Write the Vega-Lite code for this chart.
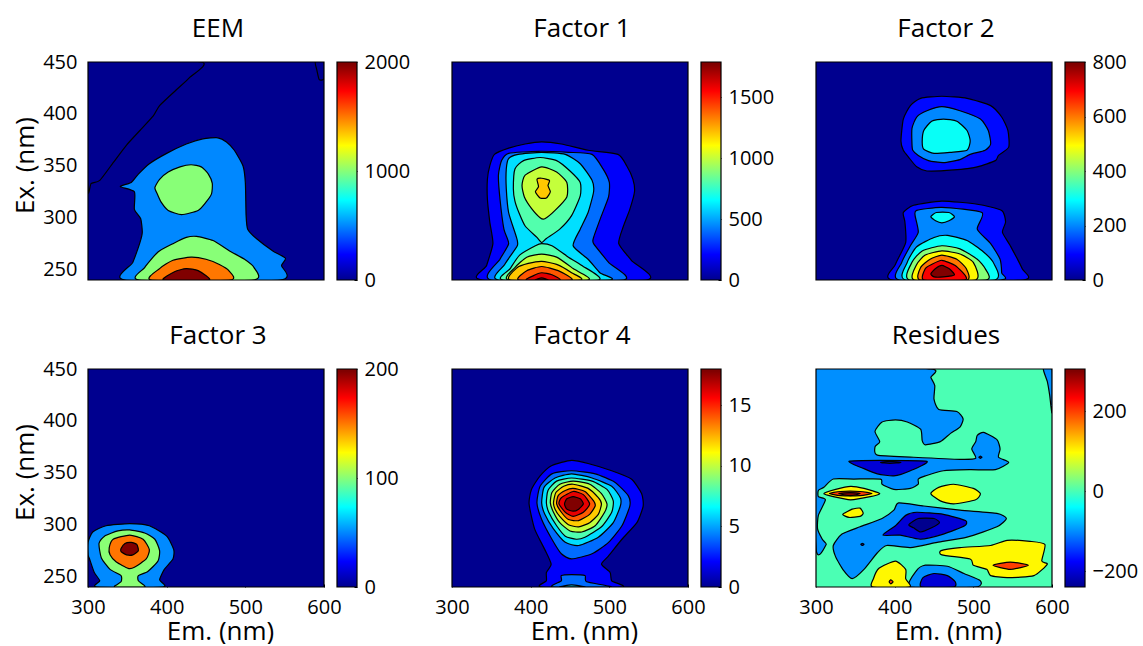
{"$schema":"https://vega.github.io/schema/vega-lite/v6.json","padding":{"left":12,"top":16,"right":0,"bottom":0},"resolve":{"scale":{"fill":"independent"}},"config":{"font":"Open Sans","view":{"stroke":null},"title":{"fontSize":26,"fontWeight":"normal","color":"#000","anchor":"middle","dx":12,"offset":19},"axis":{"labelFontSize":20,"titleFontSize":26,"titleFontWeight":"normal","labelColor":"#000","titleColor":"#000","grid":false,"domain":false,"tickColor":"#000","tickSize":-3,"labelOverlap":false,"labelBound":false,"labelFlush":false,"zindex":1}},
"datasets":{
"a":[{"c":1,"v":0,"x":444,"y":450},{"c":1,"v":0,"x":429,"y":435},{"c":1,"v":0,"x":412,"y":423},{"c":1,"v":0,"x":391,"y":408},{"c":1,"v":0,"x":383,"y":398},{"c":1,"v":0,"x":366,"y":384},{"c":1,"v":0,"x":349,"y":370},{"c":1,"v":0,"x":332,"y":353},{"c":1,"v":0,"x":315,"y":336},{"c":1,"v":0,"x":304,"y":333},{"c":1,"v":0,"x":300,"y":328},{"c":1,"v":0,"x":300,"y":450},
{"c":2,"v":0,"x":589,"y":450},{"c":2,"v":0,"x":591,"y":442},{"c":2,"v":0,"x":594,"y":433},{"c":2,"v":0,"x":600,"y":434},{"c":2,"v":0,"x":600,"y":450},
{"c":3,"v":500,"x":347,"y":240},{"c":3,"v":500,"x":357,"y":257},{"c":3,"v":500,"x":366,"y":276},{"c":3,"v":500,"x":369,"y":286},{"c":3,"v":500,"x":367,"y":299},{"c":3,"v":500,"x":359,"y":308},{"c":3,"v":500,"x":359,"y":325},{"c":3,"v":500,"x":341,"y":330},{"c":3,"v":500,"x":355,"y":334},{"c":3,"v":500,"x":364,"y":342},{"c":3,"v":500,"x":378,"y":352},{"c":3,"v":500,"x":400,"y":362},{"c":3,"v":500,"x":425,"y":371},{"c":3,"v":500,"x":446,"y":376},{"c":3,"v":500,"x":465,"y":377},{"c":3,"v":500,"x":476,"y":373},{"c":3,"v":500,"x":486,"y":365},{"c":3,"v":500,"x":497,"y":350},{"c":3,"v":500,"x":500,"y":334},{"c":3,"v":500,"x":501,"y":302},{"c":3,"v":500,"x":503,"y":289},{"c":3,"v":500,"x":514,"y":280},{"c":3,"v":500,"x":535,"y":268},{"c":3,"v":500,"x":551,"y":261},{"c":3,"v":500,"x":546,"y":254},{"c":3,"v":500,"x":544,"y":240},
{"c":4,"v":1000,"x":385,"y":329},{"c":4,"v":1000,"x":391,"y":337},{"c":4,"v":1000,"x":402,"y":344},{"c":4,"v":1000,"x":417,"y":349},{"c":4,"v":1000,"x":431,"y":351},{"c":4,"v":1000,"x":444,"y":349},{"c":4,"v":1000,"x":453,"y":342},{"c":4,"v":1000,"x":458,"y":333},{"c":4,"v":1000,"x":457,"y":323},{"c":4,"v":1000,"x":450,"y":315},{"c":4,"v":1000,"x":440,"y":307},{"c":4,"v":1000,"x":419,"y":303},{"c":4,"v":1000,"x":402,"y":307},{"c":4,"v":1000,"x":393,"y":315},{"c":4,"v":1000,"x":388,"y":323},
{"c":5,"v":1000,"x":365,"y":240},{"c":5,"v":1000,"x":372,"y":252},{"c":5,"v":1000,"x":389,"y":267},{"c":5,"v":1000,"x":408,"y":275},{"c":5,"v":1000,"x":425,"y":281},{"c":5,"v":1000,"x":438,"y":282},{"c":5,"v":1000,"x":459,"y":278},{"c":5,"v":1000,"x":480,"y":268},{"c":5,"v":1000,"x":499,"y":260},{"c":5,"v":1000,"x":511,"y":252},{"c":5,"v":1000,"x":510,"y":240},
{"c":6,"v":1500,"x":380,"y":240},{"c":6,"v":1500,"x":391,"y":251},{"c":6,"v":1500,"x":408,"y":259},{"c":6,"v":1500,"x":431,"y":262},{"c":6,"v":1500,"x":450,"y":260},{"c":6,"v":1500,"x":467,"y":255},{"c":6,"v":1500,"x":479,"y":249},{"c":6,"v":1500,"x":481,"y":240},
{"c":7,"v":2000,"x":396,"y":240},{"c":7,"v":2000,"x":410,"y":248},{"c":7,"v":2000,"x":425,"y":251},{"c":7,"v":2000,"x":440,"y":249},{"c":7,"v":2000,"x":454,"y":240}],
"b":[{"c":1,"v":200,"x":339,"y":240},{"c":1,"v":200,"x":344,"y":254},{"c":1,"v":200,"x":352,"y":275},{"c":1,"v":200,"x":348,"y":296},{"c":1,"v":200,"x":345,"y":318},{"c":1,"v":200,"x":345,"y":337},{"c":1,"v":200,"x":348,"y":350},{"c":1,"v":200,"x":354,"y":361},{"c":1,"v":200,"x":372,"y":367},{"c":1,"v":200,"x":393,"y":371},{"c":1,"v":200,"x":414,"y":373},{"c":1,"v":200,"x":439,"y":371},{"c":1,"v":200,"x":473,"y":365},{"c":1,"v":200,"x":511,"y":361},{"c":1,"v":200,"x":522,"y":350},{"c":1,"v":200,"x":530,"y":337},{"c":1,"v":200,"x":532,"y":325},{"c":1,"v":200,"x":526,"y":308},{"c":1,"v":200,"x":518,"y":292},{"c":1,"v":200,"x":512,"y":275},{"c":1,"v":200,"x":528,"y":259},{"c":1,"v":200,"x":547,"y":240},
{"c":2,"v":400,"x":350,"y":240},{"c":2,"v":400,"x":361,"y":260},{"c":2,"v":400,"x":372,"y":275},{"c":2,"v":400,"x":366,"y":289},{"c":2,"v":400,"x":361,"y":318},{"c":2,"v":400,"x":359,"y":341},{"c":2,"v":400,"x":363,"y":355},{"c":2,"v":400,"x":372,"y":362},{"c":2,"v":400,"x":410,"y":364},{"c":2,"v":400,"x":448,"y":363},{"c":2,"v":400,"x":478,"y":361},{"c":2,"v":400,"x":492,"y":347},{"c":2,"v":400,"x":500,"y":334},{"c":2,"v":400,"x":499,"y":320},{"c":2,"v":400,"x":490,"y":302},{"c":2,"v":400,"x":480,"y":281},{"c":2,"v":400,"x":480,"y":275},{"c":2,"v":400,"x":499,"y":257},{"c":2,"v":400,"x":518,"y":240},
{"c":3,"v":600,"x":359,"y":240},{"c":3,"v":600,"x":367,"y":255},{"c":3,"v":600,"x":383,"y":273},{"c":3,"v":600,"x":382,"y":281},{"c":3,"v":600,"x":372,"y":305},{"c":3,"v":600,"x":369,"y":328},{"c":3,"v":600,"x":369,"y":347},{"c":3,"v":600,"x":372,"y":357},{"c":3,"v":600,"x":384,"y":361},{"c":3,"v":600,"x":414,"y":363},{"c":3,"v":600,"x":444,"y":361},{"c":3,"v":600,"x":463,"y":352},{"c":3,"v":600,"x":478,"y":336},{"c":3,"v":600,"x":480,"y":325},{"c":3,"v":600,"x":473,"y":305},{"c":3,"v":600,"x":463,"y":289},{"c":3,"v":600,"x":454,"y":273},{"c":3,"v":600,"x":473,"y":260},{"c":3,"v":600,"x":488,"y":247},{"c":3,"v":600,"x":500,"y":240},
{"c":4,"v":800,"x":378,"y":328},{"c":4,"v":800,"x":380,"y":347},{"c":4,"v":800,"x":391,"y":355},{"c":4,"v":800,"x":412,"y":358},{"c":4,"v":800,"x":433,"y":355},{"c":4,"v":800,"x":450,"y":345},{"c":4,"v":800,"x":463,"y":334},{"c":4,"v":800,"x":463,"y":321},{"c":4,"v":800,"x":452,"y":302},{"c":4,"v":800,"x":437,"y":289},{"c":4,"v":800,"x":420,"y":280},{"c":4,"v":800,"x":414,"y":276},{"c":4,"v":800,"x":408,"y":281},{"c":4,"v":800,"x":393,"y":292},{"c":4,"v":800,"x":385,"y":305},{"c":4,"v":800,"x":380,"y":316},
{"c":5,"v":800,"x":365,"y":240},{"c":5,"v":800,"x":374,"y":251},{"c":5,"v":800,"x":386,"y":264},{"c":5,"v":800,"x":406,"y":273},{"c":5,"v":800,"x":414,"y":275},{"c":5,"v":800,"x":427,"y":273},{"c":5,"v":800,"x":448,"y":262},{"c":5,"v":800,"x":465,"y":254},{"c":5,"v":800,"x":486,"y":240},
{"c":6,"v":1000,"x":389,"y":331},{"c":6,"v":1000,"x":393,"y":341},{"c":6,"v":1000,"x":414,"y":349},{"c":6,"v":1000,"x":433,"y":344},{"c":6,"v":1000,"x":446,"y":334},{"c":6,"v":1000,"x":446,"y":320},{"c":6,"v":1000,"x":431,"y":307},{"c":6,"v":1000,"x":418,"y":299},{"c":6,"v":1000,"x":412,"y":300},{"c":6,"v":1000,"x":401,"y":309},{"c":6,"v":1000,"x":392,"y":320},
{"c":7,"v":1200,"x":408,"y":337},{"c":7,"v":1200,"x":414,"y":338},{"c":7,"v":1200,"x":424,"y":336},{"c":7,"v":1200,"x":422,"y":331},{"c":7,"v":1200,"x":425,"y":325},{"c":7,"v":1200,"x":420,"y":319},{"c":7,"v":1200,"x":412,"y":319},{"c":7,"v":1200,"x":406,"y":325},{"c":7,"v":1200,"x":410,"y":330},
{"c":8,"v":1000,"x":372,"y":240},{"c":8,"v":1000,"x":380,"y":252},{"c":8,"v":1000,"x":395,"y":262},{"c":8,"v":1000,"x":414,"y":265},{"c":8,"v":1000,"x":433,"y":262},{"c":8,"v":1000,"x":454,"y":251},{"c":8,"v":1000,"x":473,"y":240},
{"c":9,"v":1200,"x":374,"y":240},{"c":9,"v":1200,"x":383,"y":252},{"c":9,"v":1200,"x":397,"y":256},{"c":9,"v":1200,"x":414,"y":258},{"c":9,"v":1200,"x":433,"y":255},{"c":9,"v":1200,"x":452,"y":247},{"c":9,"v":1200,"x":463,"y":240},
{"c":10,"v":1400,"x":385,"y":240},{"c":10,"v":1400,"x":395,"y":249},{"c":10,"v":1400,"x":414,"y":253},{"c":10,"v":1400,"x":435,"y":249},{"c":10,"v":1400,"x":452,"y":240},
{"c":11,"v":1600,"x":395,"y":240},{"c":11,"v":1600,"x":403,"y":244},{"c":11,"v":1600,"x":414,"y":247},{"c":11,"v":1600,"x":427,"y":245},{"c":11,"v":1600,"x":437,"y":240},
{"c":12,"v":1800,"x":406,"y":240},{"c":12,"v":1800,"x":414,"y":242},{"c":12,"v":1800,"x":422,"y":240}],
"c":[{"c":1,"v":100,"x":408,"y":374},{"c":1,"v":100,"x":411,"y":395},{"c":1,"v":100,"x":420,"y":408},{"c":1,"v":100,"x":433,"y":415},{"c":1,"v":100,"x":460,"y":417},{"c":1,"v":100,"x":492,"y":415},{"c":1,"v":100,"x":522,"y":408},{"c":1,"v":100,"x":536,"y":397},{"c":1,"v":100,"x":544,"y":384},{"c":1,"v":100,"x":545,"y":368},{"c":1,"v":100,"x":532,"y":360},{"c":1,"v":100,"x":528,"y":355},{"c":1,"v":100,"x":505,"y":349},{"c":1,"v":100,"x":475,"y":346},{"c":1,"v":100,"x":441,"y":345},{"c":1,"v":100,"x":428,"y":349},{"c":1,"v":100,"x":418,"y":358},{"c":1,"v":100,"x":411,"y":365},
{"c":2,"v":200,"x":422,"y":371},{"c":2,"v":200,"x":422,"y":386},{"c":2,"v":200,"x":428,"y":397},{"c":2,"v":200,"x":441,"y":403},{"c":2,"v":200,"x":460,"y":407},{"c":2,"v":200,"x":483,"y":403},{"c":2,"v":200,"x":509,"y":395},{"c":2,"v":200,"x":519,"y":384},{"c":2,"v":200,"x":522,"y":371},{"c":2,"v":200,"x":515,"y":365},{"c":2,"v":200,"x":496,"y":361},{"c":2,"v":200,"x":483,"y":356},{"c":2,"v":200,"x":462,"y":353},{"c":2,"v":200,"x":443,"y":355},{"c":2,"v":200,"x":430,"y":360},{"c":2,"v":200,"x":423,"y":365},
{"c":3,"v":300,"x":435,"y":373},{"c":3,"v":300,"x":437,"y":384},{"c":3,"v":300,"x":447,"y":393},{"c":3,"v":300,"x":462,"y":395},{"c":3,"v":300,"x":479,"y":393},{"c":3,"v":300,"x":492,"y":384},{"c":3,"v":300,"x":496,"y":374},{"c":3,"v":300,"x":492,"y":365},{"c":3,"v":300,"x":471,"y":363},{"c":3,"v":300,"x":450,"y":362},{"c":3,"v":300,"x":437,"y":366},
{"c":4,"v":100,"x":398,"y":240},{"c":4,"v":100,"x":401,"y":255},{"c":4,"v":100,"x":414,"y":276},{"c":4,"v":100,"x":413,"y":296},{"c":4,"v":100,"x":411,"y":305},{"c":4,"v":100,"x":424,"y":312},{"c":4,"v":100,"x":460,"y":316},{"c":4,"v":100,"x":505,"y":313},{"c":4,"v":100,"x":536,"y":307},{"c":4,"v":100,"x":541,"y":296},{"c":4,"v":100,"x":537,"y":286},{"c":4,"v":100,"x":547,"y":273},{"c":4,"v":100,"x":562,"y":251},{"c":4,"v":100,"x":563,"y":240},
{"c":5,"v":200,"x":406,"y":240},{"c":5,"v":200,"x":409,"y":257},{"c":5,"v":200,"x":420,"y":273},{"c":5,"v":200,"x":430,"y":286},{"c":5,"v":200,"x":426,"y":302},{"c":5,"v":200,"x":428,"y":307},{"c":5,"v":200,"x":460,"y":310},{"c":5,"v":200,"x":511,"y":305},{"c":5,"v":200,"x":505,"y":289},{"c":5,"v":200,"x":522,"y":275},{"c":5,"v":200,"x":534,"y":260},{"c":5,"v":200,"x":536,"y":247},{"c":5,"v":200,"x":535,"y":240},
{"c":6,"v":300,"x":446,"y":301},{"c":6,"v":300,"x":453,"y":305},{"c":6,"v":300,"x":469,"y":305},{"c":6,"v":300,"x":476,"y":301},{"c":6,"v":300,"x":469,"y":297},{"c":6,"v":300,"x":460,"y":295},{"c":6,"v":300,"x":452,"y":297},
{"c":7,"v":300,"x":414,"y":240},{"c":7,"v":300,"x":416,"y":257},{"c":7,"v":300,"x":428,"y":272},{"c":7,"v":300,"x":450,"y":281},{"c":7,"v":300,"x":467,"y":283},{"c":7,"v":300,"x":492,"y":278},{"c":7,"v":300,"x":513,"y":267},{"c":7,"v":300,"x":526,"y":256},{"c":7,"v":300,"x":527,"y":240},
{"c":8,"v":400,"x":419,"y":240},{"c":8,"v":400,"x":422,"y":257},{"c":8,"v":400,"x":435,"y":268},{"c":8,"v":400,"x":460,"y":273},{"c":8,"v":400,"x":483,"y":270},{"c":8,"v":400,"x":505,"y":260},{"c":8,"v":400,"x":515,"y":251},{"c":8,"v":400,"x":516,"y":240},
{"c":9,"v":500,"x":425,"y":240},{"c":9,"v":500,"x":428,"y":255},{"c":9,"v":500,"x":439,"y":264},{"c":9,"v":500,"x":460,"y":268},{"c":9,"v":500,"x":483,"y":265},{"c":9,"v":500,"x":500,"y":257},{"c":9,"v":500,"x":503,"y":240},
{"c":10,"v":600,"x":432,"y":240},{"c":10,"v":600,"x":433,"y":252},{"c":10,"v":600,"x":445,"y":260},{"c":10,"v":600,"x":460,"y":264},{"c":10,"v":600,"x":479,"y":260},{"c":10,"v":600,"x":491,"y":251},{"c":10,"v":600,"x":492,"y":240},
{"c":11,"v":700,"x":437,"y":240},{"c":11,"v":700,"x":439,"y":251},{"c":11,"v":700,"x":447,"y":255},{"c":11,"v":700,"x":460,"y":259},{"c":11,"v":700,"x":477,"y":254},{"c":11,"v":700,"x":490,"y":244},{"c":11,"v":700,"x":488,"y":240},
{"c":12,"v":800,"x":446,"y":246},{"c":12,"v":800,"x":452,"y":251},{"c":12,"v":800,"x":460,"y":254},{"c":12,"v":800,"x":469,"y":251},{"c":12,"v":800,"x":476,"y":245},{"c":12,"v":800,"x":462,"y":243},{"c":12,"v":800,"x":450,"y":243}],
"d":[{"c":1,"v":50,"x":300,"y":283},{"c":1,"v":50,"x":306,"y":293},{"c":1,"v":50,"x":323,"y":299},{"c":1,"v":50,"x":353,"y":301},{"c":1,"v":50,"x":378,"y":299},{"c":1,"v":50,"x":400,"y":289},{"c":1,"v":50,"x":409,"y":276},{"c":1,"v":50,"x":408,"y":267},{"c":1,"v":50,"x":397,"y":257},{"c":1,"v":50,"x":391,"y":247},{"c":1,"v":50,"x":395,"y":240},{"c":1,"v":50,"x":311,"y":240},{"c":1,"v":50,"x":315,"y":246},{"c":1,"v":50,"x":308,"y":254},{"c":1,"v":50,"x":302,"y":267},{"c":1,"v":50,"x":300,"y":271},
{"c":2,"v":100,"x":314,"y":282},{"c":2,"v":100,"x":321,"y":289},{"c":2,"v":100,"x":338,"y":294},{"c":2,"v":100,"x":353,"y":295},{"c":2,"v":100,"x":372,"y":292},{"c":2,"v":100,"x":385,"y":286},{"c":2,"v":100,"x":391,"y":275},{"c":2,"v":100,"x":389,"y":265},{"c":2,"v":100,"x":376,"y":255},{"c":2,"v":100,"x":364,"y":251},{"c":2,"v":100,"x":364,"y":246},{"c":2,"v":100,"x":372,"y":240},{"c":2,"v":100,"x":334,"y":240},{"c":2,"v":100,"x":342,"y":245},{"c":2,"v":100,"x":342,"y":251},{"c":2,"v":100,"x":328,"y":257},{"c":2,"v":100,"x":317,"y":268},
{"c":3,"v":150,"x":327,"y":278},{"c":3,"v":150,"x":332,"y":286},{"c":3,"v":150,"x":353,"y":290},{"c":3,"v":150,"x":370,"y":286},{"c":3,"v":150,"x":378,"y":276},{"c":3,"v":150,"x":374,"y":267},{"c":3,"v":150,"x":359,"y":259},{"c":3,"v":150,"x":351,"y":258},{"c":3,"v":150,"x":336,"y":264},{"c":3,"v":150,"x":328,"y":271},
{"c":4,"v":200,"x":342,"y":277},{"c":4,"v":200,"x":347,"y":282},{"c":4,"v":200,"x":355,"y":283},{"c":4,"v":200,"x":362,"y":281},{"c":4,"v":200,"x":364,"y":275},{"c":4,"v":200,"x":357,"y":271},{"c":4,"v":200,"x":349,"y":271},{"c":4,"v":200,"x":342,"y":274}],
"e":[{"c":1,"v":2,"x":398,"y":320},{"c":1,"v":2,"x":401,"y":334},{"c":1,"v":2,"x":412,"y":347},{"c":1,"v":2,"x":427,"y":357},{"c":1,"v":2,"x":452,"y":362},{"c":1,"v":2,"x":473,"y":359},{"c":1,"v":2,"x":503,"y":352},{"c":1,"v":2,"x":528,"y":344},{"c":1,"v":2,"x":541,"y":330},{"c":1,"v":2,"x":543,"y":318},{"c":1,"v":2,"x":535,"y":302},{"c":1,"v":2,"x":516,"y":286},{"c":1,"v":2,"x":499,"y":270},{"c":1,"v":2,"x":490,"y":262},{"c":1,"v":2,"x":501,"y":254},{"c":1,"v":2,"x":503,"y":246},{"c":1,"v":2,"x":516,"y":240},{"c":1,"v":2,"x":414,"y":240},{"c":1,"v":2,"x":420,"y":246},{"c":1,"v":2,"x":420,"y":254},{"c":1,"v":2,"x":426,"y":262},{"c":1,"v":2,"x":418,"y":276},{"c":1,"v":2,"x":405,"y":296},
{"c":2,"v":4,"x":408,"y":321},{"c":2,"v":4,"x":412,"y":337},{"c":2,"v":4,"x":427,"y":349},{"c":2,"v":4,"x":452,"y":352},{"c":2,"v":4,"x":482,"y":349},{"c":2,"v":4,"x":507,"y":341},{"c":2,"v":4,"x":524,"y":328},{"c":2,"v":4,"x":526,"y":318},{"c":2,"v":4,"x":516,"y":299},{"c":2,"v":4,"x":499,"y":283},{"c":2,"v":4,"x":478,"y":272},{"c":2,"v":4,"x":452,"y":267},{"c":2,"v":4,"x":439,"y":272},{"c":2,"v":4,"x":427,"y":286},{"c":2,"v":4,"x":414,"y":305},
{"c":3,"v":4,"x":428,"y":240},{"c":3,"v":4,"x":439,"y":246},{"c":3,"v":4,"x":439,"y":251},{"c":3,"v":4,"x":452,"y":252},{"c":3,"v":4,"x":469,"y":251},{"c":3,"v":4,"x":471,"y":245},{"c":3,"v":4,"x":502,"y":240},
{"c":4,"v":6,"x":437,"y":240},{"c":4,"v":6,"x":452,"y":242},{"c":4,"v":6,"x":469,"y":240},
{"c":5,"v":6,"x":414,"y":321},{"c":5,"v":6,"x":417,"y":336},{"c":5,"v":6,"x":431,"y":345},{"c":5,"v":6,"x":452,"y":349},{"c":5,"v":6,"x":478,"y":345},{"c":5,"v":6,"x":503,"y":337},{"c":5,"v":6,"x":514,"y":326},{"c":5,"v":6,"x":514,"y":318},{"c":5,"v":6,"x":505,"y":302},{"c":5,"v":6,"x":486,"y":288},{"c":5,"v":6,"x":461,"y":280},{"c":5,"v":6,"x":444,"y":283},{"c":5,"v":6,"x":429,"y":296},{"c":5,"v":6,"x":418,"y":310},
{"c":6,"v":8,"x":420,"y":321},{"c":6,"v":8,"x":422,"y":333},{"c":6,"v":8,"x":433,"y":342},{"c":6,"v":8,"x":452,"y":345},{"c":6,"v":8,"x":478,"y":342},{"c":6,"v":8,"x":497,"y":334},{"c":6,"v":8,"x":505,"y":323},{"c":6,"v":8,"x":503,"y":312},{"c":6,"v":8,"x":490,"y":298},{"c":6,"v":8,"x":469,"y":288},{"c":6,"v":8,"x":458,"y":286},{"c":6,"v":8,"x":444,"y":289},{"c":6,"v":8,"x":433,"y":299},{"c":6,"v":8,"x":423,"y":312},
{"c":7,"v":10,"x":425,"y":321},{"c":7,"v":10,"x":427,"y":331},{"c":7,"v":10,"x":437,"y":339},{"c":7,"v":10,"x":454,"y":342},{"c":7,"v":10,"x":475,"y":339},{"c":7,"v":10,"x":490,"y":330},{"c":7,"v":10,"x":497,"y":320},{"c":7,"v":10,"x":494,"y":312},{"c":7,"v":10,"x":482,"y":299},{"c":7,"v":10,"x":465,"y":293},{"c":7,"v":10,"x":450,"y":294},{"c":7,"v":10,"x":437,"y":302},{"c":7,"v":10,"x":429,"y":312},
{"c":8,"v":12,"x":429,"y":321},{"c":8,"v":12,"x":432,"y":331},{"c":8,"v":12,"x":442,"y":337},{"c":8,"v":12,"x":454,"y":339},{"c":8,"v":12,"x":473,"y":335},{"c":8,"v":12,"x":486,"y":326},{"c":8,"v":12,"x":490,"y":320},{"c":8,"v":12,"x":486,"y":310},{"c":8,"v":12,"x":475,"y":302},{"c":8,"v":12,"x":461,"y":298},{"c":8,"v":12,"x":448,"y":300},{"c":8,"v":12,"x":437,"y":308},{"c":8,"v":12,"x":431,"y":315},
{"c":9,"v":14,"x":433,"y":320},{"c":9,"v":14,"x":435,"y":328},{"c":9,"v":14,"x":444,"y":333},{"c":9,"v":14,"x":454,"y":335},{"c":9,"v":14,"x":469,"y":332},{"c":9,"v":14,"x":480,"y":323},{"c":9,"v":14,"x":482,"y":318},{"c":9,"v":14,"x":475,"y":310},{"c":9,"v":14,"x":461,"y":304},{"c":9,"v":14,"x":448,"y":305},{"c":9,"v":14,"x":439,"y":312},
{"c":10,"v":16,"x":436,"y":320},{"c":10,"v":16,"x":439,"y":326},{"c":10,"v":16,"x":454,"y":332},{"c":10,"v":16,"x":467,"y":329},{"c":10,"v":16,"x":475,"y":320},{"c":10,"v":16,"x":467,"y":312},{"c":10,"v":16,"x":454,"y":308},{"c":10,"v":16,"x":444,"y":312},
{"c":11,"v":18,"x":443,"y":320},{"c":11,"v":18,"x":446,"y":325},{"c":11,"v":18,"x":454,"y":327},{"c":11,"v":18,"x":463,"y":325},{"c":11,"v":18,"x":467,"y":320},{"c":11,"v":18,"x":461,"y":315},{"c":11,"v":18,"x":454,"y":313},{"c":11,"v":18,"x":446,"y":315}],
"f":[{"c":1,"v":-100,"x":300,"y":450},{"c":1,"v":-100,"x":446,"y":450},{"c":1,"v":-100,"x":446,"y":442},{"c":1,"v":-100,"x":451,"y":434},{"c":1,"v":-100,"x":450,"y":421},{"c":1,"v":-100,"x":456,"y":411},{"c":1,"v":-100,"x":479,"y":409},{"c":1,"v":-100,"x":487,"y":402},{"c":1,"v":-100,"x":483,"y":394},{"c":1,"v":-100,"x":471,"y":388},{"c":1,"v":-100,"x":458,"y":380},{"c":1,"v":-100,"x":439,"y":377},{"c":1,"v":-100,"x":435,"y":381},{"c":1,"v":-100,"x":433,"y":392},{"c":1,"v":-100,"x":416,"y":399},{"c":1,"v":-100,"x":401,"y":401},{"c":1,"v":-100,"x":384,"y":399},{"c":1,"v":-100,"x":375,"y":390},{"c":1,"v":-100,"x":381,"y":380},{"c":1,"v":-100,"x":375,"y":375},{"c":1,"v":-100,"x":378,"y":367},{"c":1,"v":-100,"x":424,"y":365},{"c":1,"v":-100,"x":483,"y":363},{"c":1,"v":-100,"x":503,"y":364},{"c":1,"v":-100,"x":498,"y":373},{"c":1,"v":-100,"x":503,"y":380},{"c":1,"v":-100,"x":505,"y":386},{"c":1,"v":-100,"x":513,"y":389},{"c":1,"v":-100,"x":530,"y":382},{"c":1,"v":-100,"x":534,"y":373},{"c":1,"v":-100,"x":532,"y":365},{"c":1,"v":-100,"x":545,"y":360},{"c":1,"v":-100,"x":528,"y":353},{"c":1,"v":-100,"x":496,"y":353},{"c":1,"v":-100,"x":462,"y":352},{"c":1,"v":-100,"x":439,"y":347},{"c":1,"v":-100,"x":430,"y":344},{"c":1,"v":-100,"x":430,"y":339},{"c":1,"v":-100,"x":420,"y":335},{"c":1,"v":-100,"x":399,"y":334},{"c":1,"v":-100,"x":384,"y":339},{"c":1,"v":-100,"x":382,"y":344},{"c":1,"v":-100,"x":348,"y":344},{"c":1,"v":-100,"x":322,"y":344},{"c":1,"v":-100,"x":310,"y":336},{"c":1,"v":-100,"x":303,"y":333},{"c":1,"v":-100,"x":303,"y":327},{"c":1,"v":-100,"x":312,"y":324},{"c":1,"v":-100,"x":303,"y":309},{"c":1,"v":-100,"x":302,"y":296},{"c":1,"v":-100,"x":308,"y":286},{"c":1,"v":-100,"x":313,"y":281},{"c":1,"v":-100,"x":300,"y":278},
{"c":2,"v":-100,"x":589,"y":450},{"c":2,"v":-100,"x":600,"y":450},{"c":2,"v":-100,"x":600,"y":408},{"c":2,"v":-100,"x":597,"y":425},{"c":2,"v":-100,"x":594,"y":438},
{"c":3,"v":-100,"x":322,"y":280},{"c":3,"v":-100,"x":333,"y":291},{"c":3,"v":-100,"x":356,"y":298},{"c":3,"v":-100,"x":384,"y":306},{"c":3,"v":-100,"x":399,"y":314},{"c":3,"v":-100,"x":405,"y":321},{"c":3,"v":-100,"x":437,"y":318},{"c":3,"v":-100,"x":483,"y":314},{"c":3,"v":-100,"x":530,"y":311},{"c":3,"v":-100,"x":542,"y":306},{"c":3,"v":-100,"x":530,"y":298},{"c":3,"v":-100,"x":492,"y":288},{"c":3,"v":-100,"x":454,"y":283},{"c":3,"v":-100,"x":420,"y":278},{"c":3,"v":-100,"x":390,"y":280},{"c":3,"v":-100,"x":378,"y":273},{"c":3,"v":-100,"x":361,"y":257},{"c":3,"v":-100,"x":346,"y":248},{"c":3,"v":-100,"x":335,"y":256},{"c":3,"v":-100,"x":325,"y":269},
{"c":4,"v":-100,"x":420,"y":240},{"c":4,"v":-100,"x":428,"y":256},{"c":4,"v":-100,"x":439,"y":261},{"c":4,"v":-100,"x":467,"y":260},{"c":4,"v":-100,"x":488,"y":253},{"c":4,"v":-100,"x":509,"y":246},{"c":4,"v":-100,"x":503,"y":240},
{"c":5,"v":100,"x":310,"y":330},{"c":5,"v":100,"x":325,"y":334},{"c":5,"v":100,"x":344,"y":337},{"c":5,"v":100,"x":361,"y":335},{"c":5,"v":100,"x":381,"y":330},{"c":5,"v":100,"x":369,"y":327},{"c":5,"v":100,"x":344,"y":324},{"c":5,"v":100,"x":322,"y":327},
{"c":6,"v":100,"x":446,"y":330},{"c":6,"v":100,"x":456,"y":336},{"c":6,"v":100,"x":475,"y":339},{"c":6,"v":100,"x":500,"y":335},{"c":6,"v":100,"x":509,"y":330},{"c":6,"v":100,"x":503,"y":324},{"c":6,"v":100,"x":475,"y":320},{"c":6,"v":100,"x":458,"y":323},
{"c":7,"v":100,"x":334,"y":310},{"c":7,"v":100,"x":346,"y":315},{"c":7,"v":100,"x":356,"y":316},{"c":7,"v":100,"x":360,"y":311},{"c":7,"v":100,"x":356,"y":308},{"c":7,"v":100,"x":342,"y":307},
{"c":8,"v":100,"x":459,"y":275},{"c":8,"v":100,"x":483,"y":278},{"c":8,"v":100,"x":522,"y":280},{"c":8,"v":100,"x":543,"y":285},{"c":8,"v":100,"x":572,"y":284},{"c":8,"v":100,"x":591,"y":281},{"c":8,"v":100,"x":587,"y":265},{"c":8,"v":100,"x":594,"y":262},{"c":8,"v":100,"x":577,"y":251},{"c":8,"v":100,"x":543,"y":249},{"c":8,"v":100,"x":522,"y":251},{"c":8,"v":100,"x":517,"y":257},{"c":8,"v":100,"x":500,"y":261},{"c":8,"v":100,"x":496,"y":267},{"c":8,"v":100,"x":460,"y":271},
{"c":9,"v":100,"x":372,"y":240},{"c":9,"v":100,"x":373,"y":248},{"c":9,"v":100,"x":380,"y":258},{"c":9,"v":100,"x":401,"y":265},{"c":9,"v":100,"x":414,"y":257},{"c":9,"v":100,"x":414,"y":248},{"c":9,"v":100,"x":419,"y":240},
{"c":10,"v":200,"x":317,"y":330},{"c":10,"v":200,"x":331,"y":332},{"c":10,"v":200,"x":356,"y":332},{"c":10,"v":200,"x":371,"y":330},{"c":10,"v":200,"x":356,"y":328},{"c":10,"v":200,"x":331,"y":328},
{"c":11,"v":300,"x":329,"y":330},{"c":11,"v":300,"x":344,"y":331},{"c":11,"v":300,"x":356,"y":330},{"c":11,"v":300,"x":344,"y":328},
{"c":12,"v":200,"x":525,"y":261},{"c":12,"v":200,"x":547,"y":264},{"c":12,"v":200,"x":570,"y":261},{"c":12,"v":200,"x":547,"y":257},
{"c":13,"v":200,"x":393,"y":245},{"c":13,"v":200,"x":395,"y":247},{"c":13,"v":200,"x":398,"y":245},{"c":13,"v":200,"x":395,"y":243},
{"c":14,"v":-200,"x":342,"y":361},{"c":14,"v":-200,"x":382,"y":362},{"c":14,"v":-200,"x":441,"y":361},{"c":14,"v":-200,"x":420,"y":352},{"c":14,"v":-200,"x":399,"y":347},{"c":14,"v":-200,"x":378,"y":349},{"c":14,"v":-200,"x":361,"y":354},
{"c":15,"v":-240,"x":382,"y":360},{"c":15,"v":-240,"x":394,"y":361},{"c":15,"v":-240,"x":408,"y":360},{"c":15,"v":-240,"x":394,"y":359},
{"c":16,"v":-200,"x":385,"y":290},{"c":16,"v":-200,"x":401,"y":299},{"c":16,"v":-200,"x":414,"y":309},{"c":16,"v":-200,"x":428,"y":312},{"c":16,"v":-200,"x":462,"y":310},{"c":16,"v":-200,"x":490,"y":304},{"c":16,"v":-200,"x":489,"y":299},{"c":16,"v":-200,"x":462,"y":291},{"c":16,"v":-200,"x":433,"y":286},{"c":16,"v":-200,"x":407,"y":290},
{"c":17,"v":-240,"x":418,"y":300},{"c":17,"v":-240,"x":430,"y":306},{"c":17,"v":-240,"x":450,"y":306},{"c":17,"v":-240,"x":457,"y":302},{"c":17,"v":-240,"x":447,"y":297},{"c":17,"v":-240,"x":433,"y":293},{"c":17,"v":-240,"x":424,"y":297},
{"c":18,"v":-200,"x":434,"y":240},{"c":18,"v":-200,"x":436,"y":249},{"c":18,"v":-200,"x":450,"y":253},{"c":18,"v":-200,"x":467,"y":251},{"c":18,"v":-200,"x":477,"y":245},{"c":18,"v":-200,"x":475,"y":240},
{"c":19,"v":-200,"x":507,"y":365},{"c":19,"v":-200,"x":509,"y":366},{"c":19,"v":-200,"x":511,"y":365},{"c":19,"v":-200,"x":509,"y":364},
{"c":20,"v":-200,"x":357,"y":281},{"c":20,"v":-200,"x":359,"y":282},{"c":20,"v":-200,"x":361,"y":281},{"c":20,"v":-200,"x":359,"y":280}]
},
"columns":6,"bounds":"flush","spacing":{"row":89,"column":13},
"concat":[
{"width":236,"height":218,"title":{"text":"EEM","offset":10},"encoding":{"fill":{"field":"v","type":"quantitative","legend":null,"scale":{"clamp":true,"interpolate":"rgb","domain":[0,234,734,1234,1734,1980],"range":["#00008F","#0000FF","#00FFFF","#FFFF00","#FF0000","#800000"]}}},"layer":[
{"data":{"values":[{"v":0}]},"mark":"rect"},
{"data":{"name":"a"},"mark":{"type":"line","stroke":"black","strokeWidth":1.2,"interpolate":"cardinal-closed","tension":0.4,"order":false,"clip":true},"encoding":{"x":{"field":"x","type":"quantitative","scale":{"domain":[300,600],"nice":false,"zero":false},"axis":null},"y":{"field":"y","type":"quantitative","scale":{"domain":[240,450],"nice":false,"zero":false},"axis":{"values":[250,300,350,400,450],"title":"Ex. (nm)","labelPadding":14,"titlePadding":4,"titleY":103}},"detail":{"field":"c"}}},
{"data":{"values":[{"f":1}]},"mark":{"type":"rect","fill":"transparent","stroke":"black","strokeWidth":1.2},"encoding":{"fill":{"value":"transparent"}}}]},
{"width":102,"height":218,"data":{"values":[{"a":0,"b":20,"lo":0,"hi":2000}]},"mark":{"type":"rect","stroke":"black","strokeWidth":1.2,"fill":{"gradient":"linear","x1":0,"y1":1,"x2":0,"y2":0,"stops":[{"offset":0,"color":"#00008F"},{"offset":0.117,"color":"#0000FF"},{"offset":0.367,"color":"#00FFFF"},{"offset":0.617,"color":"#FFFF00"},{"offset":0.867,"color":"#FF0000"},{"offset":0.99,"color":"#800000"}]}},"encoding":{"x":{"field":"a","type":"quantitative","scale":{"domain":[0,102],"nice":false,"zero":false},"axis":null},"x2":{"field":"b"},"y":{"field":"lo","type":"quantitative","scale":{"domain":[0,2000],"nice":false,"zero":false},"axis":{"orient":"right","offset":-82,"values":[0,1000,2000],"format":"d","title":null,"labelPadding":10}},"y2":{"field":"hi"}}},
{"width":236,"height":218,"title":"Factor 1","encoding":{"fill":{"field":"v","type":"quantitative","legend":null,"scale":{"clamp":true,"interpolate":"rgb","domain":[0,209,657,1104,1552,1772],"range":["#00008F","#0000FF","#00FFFF","#FFFF00","#FF0000","#800000"]}}},"layer":[
{"data":{"values":[{"v":0}]},"mark":"rect"},
{"data":{"name":"b"},"mark":{"type":"line","stroke":"black","strokeWidth":1.2,"interpolate":"cardinal-closed","tension":0.4,"order":false,"clip":true},"encoding":{"x":{"field":"x","type":"quantitative","scale":{"domain":[300,600],"nice":false,"zero":false},"axis":null},"y":{"field":"y","type":"quantitative","scale":{"domain":[240,450],"nice":false,"zero":false},"axis":null},"detail":{"field":"c"}}},
{"data":{"values":[{"f":1}]},"mark":{"type":"rect","stroke":"black","strokeWidth":1.2},"encoding":{"fill":{"value":"transparent"}}}]},
{"width":102,"height":218,"data":{"values":[{"a":0,"b":20,"lo":0,"hi":1790}]},"mark":{"type":"rect","stroke":"black","strokeWidth":1.2,"fill":{"gradient":"linear","x1":0,"y1":1,"x2":0,"y2":0,"stops":[{"offset":0,"color":"#00008F"},{"offset":0.117,"color":"#0000FF"},{"offset":0.367,"color":"#00FFFF"},{"offset":0.617,"color":"#FFFF00"},{"offset":0.867,"color":"#FF0000"},{"offset":0.99,"color":"#800000"}]}},"encoding":{"x":{"field":"a","type":"quantitative","scale":{"domain":[0,102],"nice":false,"zero":false},"axis":null},"x2":{"field":"b"},"y":{"field":"lo","type":"quantitative","scale":{"domain":[0,1790],"nice":false,"zero":false},"axis":{"orient":"right","offset":-82,"values":[0,500,1000,1500],"format":"d","title":null,"labelPadding":10}},"y2":{"field":"hi"}}},
{"width":236,"height":218,"title":"Factor 2","encoding":{"fill":{"field":"v","type":"quantitative","legend":null,"scale":{"clamp":true,"interpolate":"rgb","domain":[0,94,294,494,694,792],"range":["#00008F","#0000FF","#00FFFF","#FFFF00","#FF0000","#800000"]}}},"layer":[
{"data":{"values":[{"v":0}]},"mark":"rect"},
{"data":{"name":"c"},"mark":{"type":"line","stroke":"black","strokeWidth":1.2,"interpolate":"cardinal-closed","tension":0.4,"order":false,"clip":true},"encoding":{"x":{"field":"x","type":"quantitative","scale":{"domain":[300,600],"nice":false,"zero":false},"axis":null},"y":{"field":"y","type":"quantitative","scale":{"domain":[240,450],"nice":false,"zero":false},"axis":null},"detail":{"field":"c"}}},
{"data":{"values":[{"f":1}]},"mark":{"type":"rect","stroke":"black","strokeWidth":1.2},"encoding":{"fill":{"value":"transparent"}}}]},
{"width":78,"height":218,"data":{"values":[{"a":0,"b":20,"lo":0,"hi":800}]},"mark":{"type":"rect","stroke":"black","strokeWidth":1.2,"fill":{"gradient":"linear","x1":0,"y1":1,"x2":0,"y2":0,"stops":[{"offset":0,"color":"#00008F"},{"offset":0.117,"color":"#0000FF"},{"offset":0.367,"color":"#00FFFF"},{"offset":0.617,"color":"#FFFF00"},{"offset":0.867,"color":"#FF0000"},{"offset":0.99,"color":"#800000"}]}},"encoding":{"x":{"field":"a","type":"quantitative","scale":{"domain":[0,78],"nice":false,"zero":false},"axis":null},"x2":{"field":"b"},"y":{"field":"lo","type":"quantitative","scale":{"domain":[0,800],"nice":false,"zero":false},"axis":{"orient":"right","offset":-58,"values":[0,200,400,600,800],"format":"d","title":null,"labelPadding":10}},"y2":{"field":"hi"}}},
{"width":236,"height":218,"title":{"text":"Factor 3","offset":10},"encoding":{"fill":{"field":"v","type":"quantitative","legend":null,"scale":{"clamp":true,"interpolate":"rgb","domain":[0,23,73,123,173,198],"range":["#00008F","#0000FF","#00FFFF","#FFFF00","#FF0000","#800000"]}}},"layer":[
{"data":{"values":[{"v":0}]},"mark":"rect"},
{"data":{"name":"d"},"mark":{"type":"line","stroke":"black","strokeWidth":1.2,"interpolate":"cardinal-closed","tension":0.4,"order":false,"clip":true},"encoding":{"x":{"field":"x","type":"quantitative","scale":{"domain":[300,600],"nice":false,"zero":false},"axis":{"values":[300,400,500,600],"title":"Em. (nm)","labelPadding":13,"titlePadding":1,"titleX":132}},"y":{"field":"y","type":"quantitative","scale":{"domain":[240,450],"nice":false,"zero":false},"axis":{"values":[250,300,350,400,450],"title":"Ex. (nm)","labelPadding":14,"titlePadding":4,"titleY":103}},"detail":{"field":"c"}}},
{"data":{"values":[{"f":1}]},"mark":{"type":"rect","stroke":"black","strokeWidth":1.2},"encoding":{"fill":{"value":"transparent"}}}]},
{"width":102,"height":218,"data":{"values":[{"a":0,"b":20,"lo":0,"hi":200}]},"mark":{"type":"rect","stroke":"black","strokeWidth":1.2,"fill":{"gradient":"linear","x1":0,"y1":1,"x2":0,"y2":0,"stops":[{"offset":0,"color":"#00008F"},{"offset":0.117,"color":"#0000FF"},{"offset":0.367,"color":"#00FFFF"},{"offset":0.617,"color":"#FFFF00"},{"offset":0.867,"color":"#FF0000"},{"offset":0.99,"color":"#800000"}]}},"encoding":{"x":{"field":"a","type":"quantitative","scale":{"domain":[0,102],"nice":false,"zero":false},"axis":null},"x2":{"field":"b"},"y":{"field":"lo","type":"quantitative","scale":{"domain":[0,200],"nice":false,"zero":false},"axis":{"orient":"right","offset":-82,"values":[0,100,200],"format":"d","title":null,"labelPadding":10}},"y2":{"field":"hi"}}},
{"width":236,"height":218,"title":"Factor 4","encoding":{"fill":{"field":"v","type":"quantitative","legend":null,"scale":{"clamp":true,"interpolate":"rgb","domain":[0,2.1,6.6,11.1,15.6,17.8],"range":["#00008F","#0000FF","#00FFFF","#FFFF00","#FF0000","#800000"]}}},"layer":[
{"data":{"values":[{"v":0}]},"mark":"rect"},
{"data":{"name":"e"},"mark":{"type":"line","stroke":"black","strokeWidth":1.2,"interpolate":"cardinal-closed","tension":0.4,"order":false,"clip":true},"encoding":{"x":{"field":"x","type":"quantitative","scale":{"domain":[300,600],"nice":false,"zero":false},"axis":{"values":[300,400,500,600],"title":"Em. (nm)","labelPadding":13,"titlePadding":1,"titleX":132}},"y":{"field":"y","type":"quantitative","scale":{"domain":[240,450],"nice":false,"zero":false},"axis":null},"detail":{"field":"c"}}},
{"data":{"values":[{"f":1}]},"mark":{"type":"rect","stroke":"black","strokeWidth":1.2},"encoding":{"fill":{"value":"transparent"}}}]},
{"width":102,"height":218,"data":{"values":[{"a":0,"b":20,"lo":0,"hi":18}]},"mark":{"type":"rect","stroke":"black","strokeWidth":1.2,"fill":{"gradient":"linear","x1":0,"y1":1,"x2":0,"y2":0,"stops":[{"offset":0,"color":"#00008F"},{"offset":0.117,"color":"#0000FF"},{"offset":0.367,"color":"#00FFFF"},{"offset":0.617,"color":"#FFFF00"},{"offset":0.867,"color":"#FF0000"},{"offset":0.99,"color":"#800000"}]}},"encoding":{"x":{"field":"a","type":"quantitative","scale":{"domain":[0,102],"nice":false,"zero":false},"axis":null},"x2":{"field":"b"},"y":{"field":"lo","type":"quantitative","scale":{"domain":[0,18],"nice":false,"zero":false},"axis":{"orient":"right","offset":-82,"values":[0,5,10,15],"format":"d","title":null,"labelPadding":10}},"y2":{"field":"hi"}}},
{"width":236,"height":218,"title":"Residues","encoding":{"fill":{"field":"v","type":"quantitative","legend":null,"scale":{"clamp":true,"interpolate":"rgb","domain":[-240,-176,-40,96,233,300],"range":["#00008F","#0000FF","#00FFFF","#FFFF00","#FF0000","#800000"]}}},"layer":[
{"data":{"values":[{"v":0}]},"mark":"rect"},
{"data":{"name":"f"},"mark":{"type":"line","stroke":"black","strokeWidth":1.2,"interpolate":"cardinal-closed","tension":0.4,"order":false,"clip":true},"encoding":{"x":{"field":"x","type":"quantitative","scale":{"domain":[300,600],"nice":false,"zero":false},"axis":{"values":[300,400,500,600],"title":"Em. (nm)","labelPadding":13,"titlePadding":1,"titleX":132}},"y":{"field":"y","type":"quantitative","scale":{"domain":[240,450],"nice":false,"zero":false},"axis":null},"detail":{"field":"c"}}},
{"data":{"values":[{"f":1}]},"mark":{"type":"rect","stroke":"black","strokeWidth":1.2},"encoding":{"fill":{"value":"transparent"}}}]},
{"width":78,"height":218,"data":{"values":[{"a":0,"b":20,"lo":-240,"hi":305}]},"mark":{"type":"rect","stroke":"black","strokeWidth":1.2,"fill":{"gradient":"linear","x1":0,"y1":1,"x2":0,"y2":0,"stops":[{"offset":0,"color":"#00008F"},{"offset":0.117,"color":"#0000FF"},{"offset":0.367,"color":"#00FFFF"},{"offset":0.617,"color":"#FFFF00"},{"offset":0.867,"color":"#FF0000"},{"offset":0.99,"color":"#800000"}]}},"encoding":{"x":{"field":"a","type":"quantitative","scale":{"domain":[0,78],"nice":false,"zero":false},"axis":null},"x2":{"field":"b"},"y":{"field":"lo","type":"quantitative","scale":{"domain":[-240,305],"nice":false,"zero":false},"axis":{"orient":"right","offset":-58,"values":[-200,0,200],"format":"d","title":null,"labelPadding":10}},"y2":{"field":"hi"}}}
]}
